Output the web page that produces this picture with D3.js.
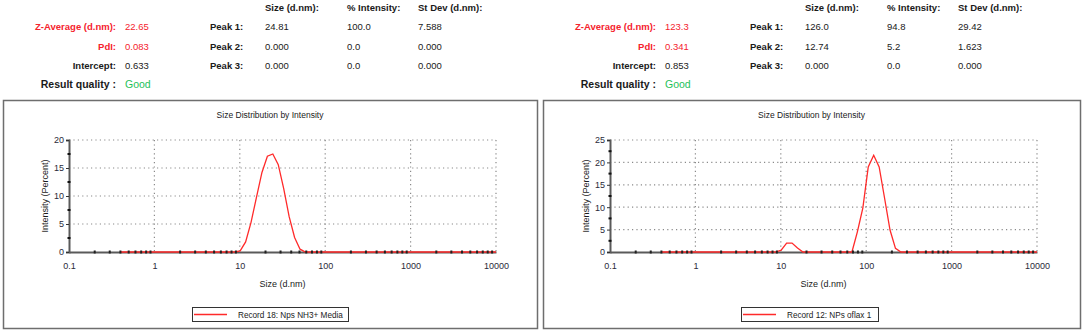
<!DOCTYPE html>
<html><head><meta charset="utf-8">
<script src="https://cdn.jsdelivr.net/npm/d3@7"></script>
<style>
html,body{margin:0;padding:0;background:#fff;}
svg{display:block;font-family:"Liberation Sans",Arial,sans-serif;}
</style></head>
<body><svg id="c" width="1084" height="334"></svg>
<script>
// ---- data ----
const sizeBins = [0.4, 8.721, 10.1, 11.7, 13.54, 15.69, 18.17, 21.04, 24.36, 28.21, 32.67, 37.84, 43.82, 50.75, 58.77, 68.06, 78.82, 91.28, 105.7, 122.4, 141.8, 164.2, 190.1, 220.2, 255.0, 295.3, 10000];
const intensityRec18 = [0, 0, 0.2, 1.8, 5.3, 9.8, 14.2, 17.1, 17.5, 15.6, 11.3, 6.3, 2.6, 0.5, 0, 0, 0, 0, 0, 0, 0, 0, 0, 0, 0, 0, 0];
const intensityRec12 = [0, 0, 0.4, 2.0, 2.0, 0.9, 0, 0, 0, 0, 0, 0, 0, 0, 0, 0, 4.5, 9.8, 19.0, 21.6, 19.0, 12.0, 4.9, 0.8, 0, 0, 0];
const xTickLabels = ["0.1", "1", "10", "100", "1000", "10000"];
const yTicksRec18 = [0, 5, 10, 15, 20];
const yTicksRec12 = [0, 5, 10, 15, 20, 25];
const legendRec18 = "Record 18: Nps NH3+ Media";
const legendRec12 = "Record 12: NPs oflax 1";
const headerCols = ["Size (d.nm):", "% Intensity:", "St Dev (d.nm):"];
const peakLabels = ["Peak 1:", "Peak 2:", "Peak 3:"];
const summaryRec18 = {z: "22.65", pdi: "0.083", intercept: "0.633", quality: "Good"};
const summaryRec12 = {z: "123.3", pdi: "0.341", intercept: "0.853", quality: "Good"};
const peaksRec18 = [["24.81", "100.0", "7.588"], ["0.000", "0.0", "0.000"], ["0.000", "0.0", "0.000"]];
const peaksRec12 = [["126.0", "94.8", "29.42"], ["12.74", "5.2", "1.623"], ["0.000", "0.0", "0.000"]];

const svg = d3.select("#c");
const RED = "#f5222d", GREEN = "#1fc15a", DARK = "#1a1a1a";

function summary(ox, s, peaks) {
  const g = svg.append("g").attr("transform", `translate(${ox},0)`);
  const colX = [265, 347, 418];
  headerCols.forEach((h, i) => g.append("text").attr("x", colX[i]).attr("y", 11)
    .attr("font-size", 9.5).attr("font-weight", "bold").attr("fill", DARK).text(h));
  const rowsY = [30, 49.5, 68.5];
  const lab = [["Z-Average (d.nm):", s.z, RED, RED], ["PdI:", s.pdi, RED, RED], ["Intercept:", s.intercept, DARK, DARK]];
  lab.forEach((r, i) => {
    g.append("text").attr("x", 116).attr("y", rowsY[i]).attr("text-anchor", "end")
      .attr("font-size", 9.5).attr("font-weight", "bold").attr("fill", r[2]).text(r[0]);
    g.append("text").attr("x", 125).attr("y", rowsY[i]).attr("font-size", 9.5).attr("fill", r[3]).text(r[1]);
    g.append("text").attr("x", 210).attr("y", rowsY[i]).attr("font-size", 9.5).attr("font-weight", "bold").attr("fill", DARK).text(peakLabels[i]);
    peaks[i].forEach((v, j) => g.append("text").attr("x", colX[j]).attr("y", rowsY[i]).attr("font-size", 9.5).attr("fill", DARK).text(v));
  });
  g.append("text").attr("x", 116).attr("y", 88).attr("text-anchor", "end")
    .attr("font-size", 10.5).attr("font-weight", "bold").attr("fill", DARK).text("Result quality :");
  g.append("text").attr("x", 125).attr("y", 88).attr("font-size", 10.5).attr("fill", GREEN).text(s.quality);
}

function panel(box, plot, yTicks, vals, legendText, legendBox) {
  svg.append("rect").attr("x", box.x + 0.5).attr("y", box.y + 0.5).attr("width", box.w).attr("height", box.h)
    .attr("fill", "#fff").attr("stroke", "#6e6e6e").attr("stroke-width", 1.5);
  const x = d3.scaleLog().domain([0.1, 10000]).range([plot.x0, plot.x1]);
  const y = d3.scaleLinear().domain([0, d3.max(yTicks)]).range([plot.y1, plot.y0]);
  const cx = (plot.x0 + plot.x1) / 2;
  svg.append("text").attr("x", (box.x + box.x + box.w) / 2).attr("y", box.y + 18).attr("text-anchor", "middle")
    .attr("font-size", 8.5).attr("fill", DARK).text("Size Distribution by Intensity");
  const grid = svg.append("g").attr("stroke", "#8a8a8a").attr("stroke-width", 1.2).attr("stroke-dasharray", "1.2,3.2");
  const decades = xTickLabels.map(Number);
  decades.slice(1).forEach(d => grid.append("line").attr("x1", x(d)).attr("x2", x(d)).attr("y1", plot.y0).attr("y2", plot.y1));
  yTicks.slice(1).forEach(t => grid.append("line").attr("x1", plot.x0).attr("x2", plot.x1).attr("y1", y(t)).attr("y2", y(t)));
  // axes
  const ax = svg.append("g").attr("transform", `translate(0,${plot.y1})`)
    .call(d3.axisBottom(x).tickValues(decades).tickFormat((d, i) => xTickLabels[i]).tickSize(0).tickPadding(11));
  ax.select(".domain").attr("stroke", "#5a5a5a").attr("stroke-width", 2);
  ax.selectAll("text").attr("font-size", 9).attr("fill", "#2a2a3a").attr("font-family", "Liberation Sans, Arial");
  const ay = svg.append("g").attr("transform", `translate(${plot.x0},0)`)
    .call(d3.axisLeft(y).tickValues(yTicks).tickSize(3).tickPadding(2));
  ay.select(".domain").attr("stroke", "#5a5a5a").attr("stroke-width", 2);
  ay.selectAll("line").attr("stroke", "#333");
  ay.selectAll("text").attr("font-size", 9).attr("fill", "#2a2a3a").attr("font-family", "Liberation Sans, Arial");
  // labels
  svg.append("text").attr("x", cx).attr("y", plot.y1 + 35).attr("text-anchor", "middle")
    .attr("font-size", 9).attr("fill", DARK).text("Size (d.nm)");
  svg.append("text").attr("transform", `translate(${plot.x0 - 21},${(plot.y0 + plot.y1) / 2}) rotate(-90)`)
    .attr("text-anchor", "middle").attr("font-size", 9).attr("fill", DARK).text("Intensity (Percent)");
  // data line
  const line = d3.line().x((d, i) => x(sizeBins[i])).y(d => y(d));
  svg.append("path").datum(vals).attr("d", line).attr("fill", "none").attr("stroke", "#ff2a2a").attr("stroke-width", 1.3);
  // minor ticks (drawn over the line, as in the original)
  const minorX = [];
  decades.slice(0, -1).forEach(d => [2, 3, 4, 5, 6, 7, 8, 9].forEach(m => minorX.push(d * m)));
  svg.append("g").selectAll("rect").data(minorX).join("rect")
    .attr("x", d => x(d) - 1).attr("y", plot.y1 - 1.5).attr("width", 2).attr("height", 3).attr("fill", "#222");
  const minorY = yTicks.slice(0, -1).map(t => t + 2.5);
  svg.append("g").selectAll("rect").data(minorY).join("rect")
    .attr("x", plot.x0 - 1.5).attr("y", d => y(d) - 1).attr("width", 3).attr("height", 2).attr("fill", "#111");
  // legend
  svg.append("rect").attr("x", legendBox.x + 0.5).attr("y", legendBox.y + 0.5).attr("width", legendBox.w).attr("height", 14)
    .attr("fill", "#fff").attr("stroke", "#333").attr("stroke-width", 1);
  svg.append("line").attr("x1", legendBox.x + 2).attr("x2", legendBox.x + 35).attr("y1", legendBox.y + 7.5).attr("y2", legendBox.y + 7.5)
    .attr("stroke", "#ff2a2a").attr("stroke-width", 1.3);
  svg.append("text").attr("x", legendBox.x + 46).attr("y", legendBox.y + 10.8).attr("font-size", 8.2).attr("fill", DARK).text(legendText);
}

summary(0, summaryRec18, peaksRec18);
summary(540, summaryRec12, peaksRec12);
panel({x: 3, y: 100, w: 534, h: 228}, {x0: 69, x1: 496, y0: 140, y1: 252}, yTicksRec18, intensityRec18, legendRec18, {x: 192, y: 307, w: 156});
panel({x: 543, y: 100, w: 537, h: 228}, {x0: 610, x1: 1037, y0: 140, y1: 252}, yTicksRec12, intensityRec12, legendRec12, {x: 741, y: 307, w: 137});
</script></body></html>
